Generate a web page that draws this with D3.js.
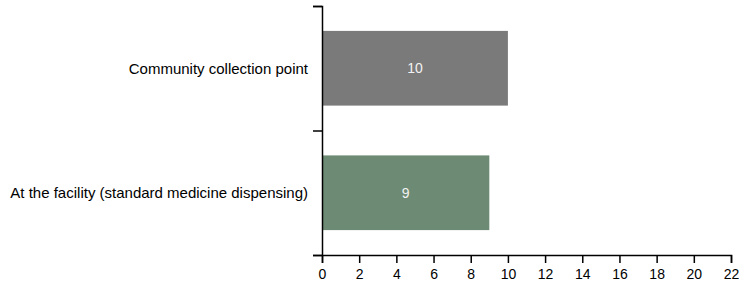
<!DOCTYPE html>
<html>
<head>
<meta charset="utf-8">
<script src="https://cdn.jsdelivr.net/npm/d3@7"></script>
<style>
  body { margin: 0; background: #fff; }
  text { font-family: "Liberation Sans", Arial, sans-serif; }
</style>
</head>
<body>
<div id="chart"></div>
<script>
var categories = ["Community collection point", "At the facility (standard medicine dispensing)"];
var values = [10, 9];
var colors = ["#7a7a7a", "#6d8b74"];
var xTicks = [0, 2, 4, 6, 8, 10, 12, 14, 16, 18, 20, 22];

var width = 739, height = 286;
var margin = {top: 6, right: 8, bottom: 31, left: 322};

var svg = d3.select("#chart").append("svg")
    .attr("width", width)
    .attr("height", height);

var g = svg.append("g")
    .attr("transform", "translate(" + margin.left + "," + margin.top + ")");

var innerW = width - margin.left - margin.right;
var innerH = height - margin.top - margin.bottom;

var x = d3.scaleLinear().domain([0, 22]).range([0, innerW]);
var y = d3.scaleBand().domain(categories).range([0, innerH]).paddingInner(0.4).paddingOuter(0.2);

// bars
g.selectAll("rect.bar")
    .data(categories)
    .enter().append("rect")
    .attr("class", "bar")
    .attr("x", x(0))
    .attr("y", d => y(d))
    .attr("width", (d, i) => x(values[i]) - x(0))
    .attr("height", y.bandwidth())
    .attr("fill", (d, i) => colors[i]);

// value labels
g.selectAll("text.val")
    .data(categories)
    .enter().append("text")
    .attr("class", "val")
    .attr("x", (d, i) => x(values[i] / 2))
    .attr("y", d => y(d) + y.bandwidth() / 2)
    .attr("dy", "0.35em")
    .attr("text-anchor", "middle")
    .attr("font-size", 14)
    .attr("fill", "#f2f2f2")
    .text((d, i) => values[i]);

// x axis
var xAxis = g.append("g")
    .attr("transform", "translate(0," + innerH + ")")
    .call(d3.axisBottom(x).tickValues(xTicks).tickSize(8).tickSizeOuter(8));
xAxis.selectAll("text")
    .attr("y", 14)
    .attr("font-size", 14)
    .attr("fill", "#000")
    .attr("font-family", "Liberation Sans, Arial, sans-serif");
xAxis.selectAll("line, path").attr("stroke", "#000").attr("stroke-width", 1.5);

// y axis: ticks at band boundaries, labels at band centres
var yEdge = d3.scaleLinear().domain([0, categories.length]).range([0, innerH]);
var yAxis = g.append("g")
    .call(d3.axisLeft(yEdge).ticks(categories.length).tickSize(9).tickSizeOuter(9).tickFormat(""));
yAxis.selectAll("line, path").attr("stroke", "#000").attr("stroke-width", 1.5);

g.selectAll("text.cat")
    .data(categories)
    .enter().append("text")
    .attr("class", "cat")
    .attr("x", -14)
    .attr("y", d => y(d) + y.bandwidth() / 2)
    .attr("dy", "0.35em")
    .attr("text-anchor", "end")
    .attr("font-size", 15)
    .attr("fill", "#000")
    .text(d => d);
</script>
</body>
</html>
